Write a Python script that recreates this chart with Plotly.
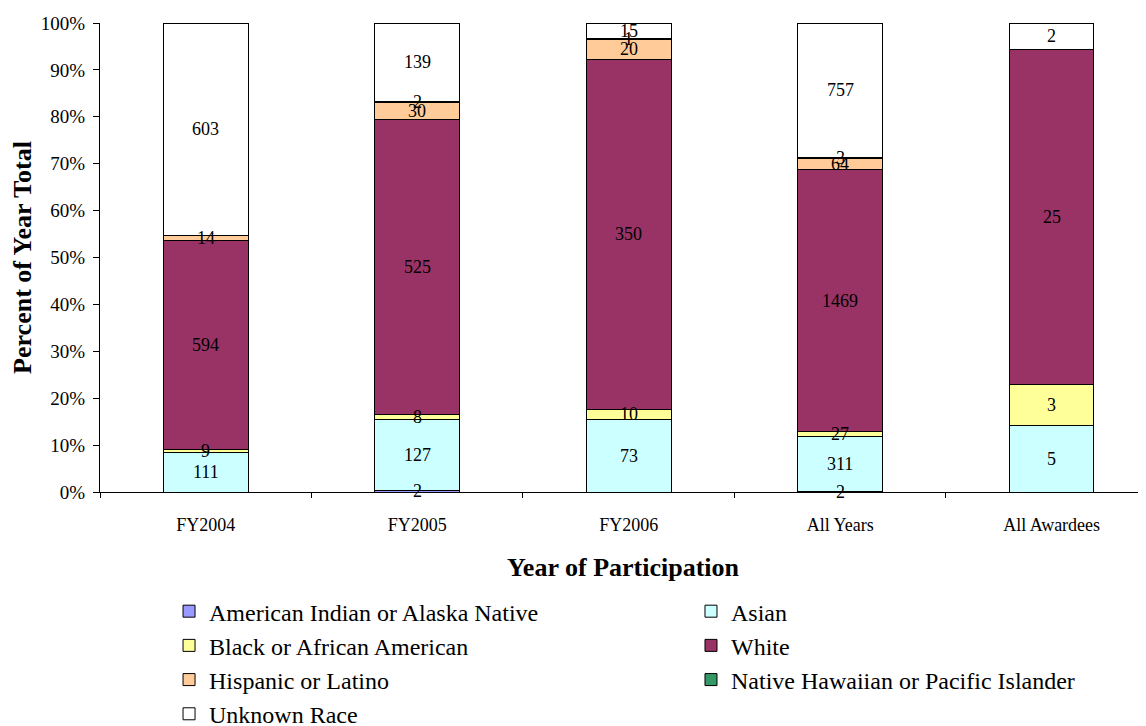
import plotly.graph_objects as go

years = ['FY2004', 'FY2005', 'FY2006', 'All Years', 'All Awardees']

american_indian = [0, 2, 0, 2, 0]
asian = [111, 127, 73, 311, 5]
black = [9, 8, 10, 27, 3]
white = [594, 525, 350, 1469, 25]
hispanic = [14, 30, 20, 64, 0]
native_hawaiian = [0, 2, 1, 3, 0]
unknown = [603, 139, 15, 757, 2]

series = [
    ('American Indian or Alaska Native', american_indian, '#9999FF', 'legend'),
    ('Asian', asian, '#CCFFFF', 'legend2'),
    ('Black or African American', black, '#FFFF99', 'legend'),
    ('White', white, '#993366', 'legend2'),
    ('Hispanic or Latino', hispanic, '#FFCC99', 'legend'),
    ('Native Hawaiian or Pacific Islander', native_hawaiian, '#339966', 'legend2'),
    ('Unknown Race', unknown, '#FFFFFF', 'legend'),
]

serif = 'Liberation Serif, Times New Roman, serif'

totals = [sum(s[1][i] for s in series) for i in range(len(years))]

fig = go.Figure()
base = [0] * len(years)
for name, vals, color, leg in series:
    fig.add_trace(go.Bar(
        x=years,
        y=[v if v else None for v in vals],
        name=name,
        legend=leg,
        marker=dict(color=color, line=dict(color='black', width=1)),
        width=0.4,
    ))
    # count labels centred in each segment
    for i, v in enumerate(vals):
        if v:
            mid = (base[i] + v / 2) / totals[i] * 100
            fig.add_annotation(x=years[i], y=mid, text=str(v), showarrow=False,
                               font=dict(family=serif, size=18, color='black'))
        base[i] += v

legend_style = dict(
    orientation='v', yanchor='top', xanchor='left', y=-0.207,
    font=dict(family=serif, size=24), traceorder='normal',
    bgcolor='rgba(0,0,0,0)',
)

# page body adds an 8px offset, so the figure is sized to fill the rest
fig.update_layout(
    barmode='stack',
    barnorm='percent',
    width=1138, height=718,
    margin=dict(l=92, r=0, t=15, b=234, autoexpand=False),
    plot_bgcolor='white',
    paper_bgcolor='white',
    font=dict(family=serif, color='black'),
    legend=dict(x=0.066, **legend_style),
    legend2=dict(x=0.565, **legend_style),
    xaxis=dict(
        title=dict(text='<b>Year of Participation</b>', font=dict(size=26), standoff=24),
        range=[-0.5, 4.446],
        showline=True, linecolor='black', linewidth=1,
        ticks='outside', tickson='boundaries', ticklen=5, tickcolor='black',
        tickfont=dict(size=18),
        ticklabelstandoff=16,
        showgrid=False,
    ),
    yaxis=dict(
        title=dict(text='<b>Percent of Year Total</b>', font=dict(size=26), standoff=14),
        range=[0, 100],
        dtick=10,
        ticksuffix='%',
        showline=True, linecolor='black', linewidth=1,
        ticks='outside', ticklen=6, tickcolor='black',
        tickfont=dict(size=19),
        ticklabelstandoff=4,
        showgrid=False,
        zeroline=False,
    ),
)

fig.write_html('out.html')
